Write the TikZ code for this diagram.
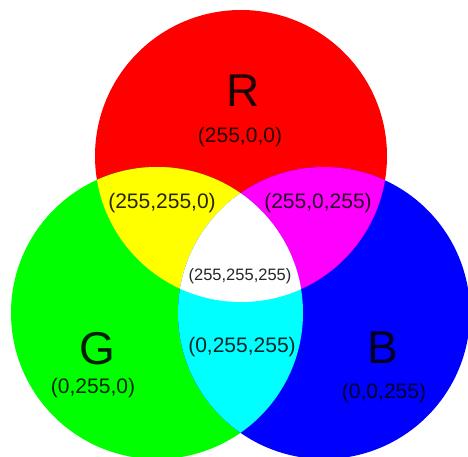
\documentclass[tikz,border=0pt]{standalone}
\usepackage{fontspec}
\setmainfont{Liberation Sans}
\definecolor{pR}{RGB}{255,0,0}
\definecolor{pG}{RGB}{0,255,0}
\definecolor{pB}{RGB}{0,0,255}
\definecolor{pY}{RGB}{255,255,0}
\definecolor{pM}{RGB}{255,0,255}
\definecolor{pC}{RGB}{0,255,255}
\definecolor{pW}{RGB}{255,255,255}
\begin{document}
\begin{tikzpicture}[x=1pt,y=-1pt,
  big/.style={text=black,text opacity=0.88,font=\fontsize{46}{50}\selectfont,inner sep=0pt},
  val/.style={text=black,text opacity=0.85,font=\fontsize{21}{24}\selectfont,inner sep=0pt},
  valsmall/.style={text=black,text opacity=0.85,font=\fontsize{16.5}{20}\selectfont,inner sep=0pt}]
\useasboundingbox (0,0) rectangle (468,457);
\fill[pW] (0,0) rectangle (468,457);
\coordinate (cR) at (241,156);
\coordinate (cG) at (157,313);
\coordinate (cB) at (324,313);
\def\rad{146}
% base circles
\fill[pR] (cR) circle[radius=\rad];
\fill[pG] (cG) circle[radius=\rad];
\fill[pB] (cB) circle[radius=\rad];
% pairwise overlaps
\begin{scope}
  \clip (cR) circle[radius=\rad];
  \fill[pY] (cG) circle[radius=\rad];
  \fill[pM] (cB) circle[radius=\rad];
\end{scope}
\begin{scope}
  \clip (cG) circle[radius=\rad];
  \fill[pC] (cB) circle[radius=\rad];
\end{scope}
% triple overlap
\begin{scope}
  \clip (cR) circle[radius=\rad];
  \clip (cG) circle[radius=\rad];
  \fill[pW] (cB) circle[radius=\rad];
\end{scope}
% labels
\node[big] (Rl) at (243,91) {R};
\node[val] (Rv) at (240,137) {(255,0,0)};
\node[big] (Gl) at (97,349) {G};
\node[val] (Gv) at (93,388) {(0,255,0)};
\node[big] (Bl) at (383,348) {B};
\node[val] (Bv) at (384,393) {(0,0,255)};
\node[val] (Yv) at (162,203) {(255,255,0)};
\node[val] (Mv) at (318,203) {(255,0,255)};
\node[val] (Cv) at (242,347) {(0,255,255)};
\node[valsmall] (Wv) at (240,276) {(255,255,255)};
\end{tikzpicture}
\end{document}
